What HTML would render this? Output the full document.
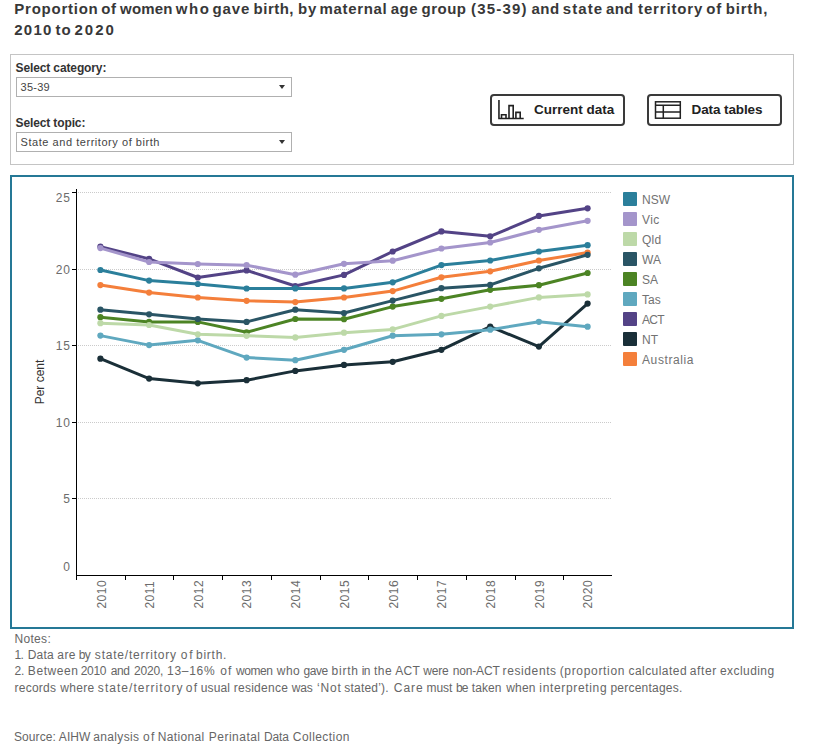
<!DOCTYPE html>
<html><head><meta charset="utf-8"><title>Proportion of women who gave birth</title>
<style>
html,body{margin:0;padding:0;background:#fff;}
body{width:813px;height:744px;position:relative;overflow:hidden;font-family:"Liberation Sans",sans-serif;color:#333;}
.abs{position:absolute;white-space:nowrap;}
.title{left:15px;font-weight:bold;font-size:15px;line-height:21px;color:#383838;}
.panel{position:absolute;left:10px;top:54px;width:782px;height:109px;border:1px solid #c4c4c4;}
.lbl{font-weight:bold;font-size:12px;color:#333;left:15.5px;letter-spacing:-0.12px;}
.dd{position:absolute;left:16px;width:274px;height:18px;border:1px solid #b0b0b0;background:#fff;}
.dd span{position:absolute;left:3.5px;top:3px;font-size:11px;line-height:12px;color:#444;white-space:nowrap;}
.dd i{position:absolute;right:6px;top:7px;width:0;height:0;border-left:3.5px solid transparent;border-right:3.5px solid transparent;border-top:4.5px solid #333;}
.btn{position:absolute;top:94px;height:28px;border:2px solid #3a3a3a;border-radius:4px;background:#fff;}
.btn span{position:absolute;top:6px;font-weight:bold;font-size:13.5px;line-height:16px;color:#222;white-space:nowrap;}
.frame{position:absolute;left:10px;top:175px;width:780px;height:450px;border:2px solid #257896;}
svg.chart{position:absolute;left:0;top:0;}
.ax{font-family:"Liberation Sans",sans-serif;font-size:12px;fill:#6c6c6c;}
.xl{letter-spacing:0.5px;}
.ayt{font-family:"Liberation Sans",sans-serif;font-size:12px;fill:#333;text-anchor:middle;}
.lg{font-family:"Liberation Sans",sans-serif;font-size:12px;fill:#727272;}
.title span,.note span{position:absolute;top:0;white-space:pre;}
.note{left:15px;font-size:12px;line-height:16px;color:#666;}
</style></head><body>
<div class="abs title" id="t1" style="top:-2px;left:0;width:813px;height:21px;"><span style="left:14.37px;letter-spacing:0.75px;">Proportion </span><span style="left:101.16px;letter-spacing:0.6px;">of </span><span style="left:120.06px;letter-spacing:0.18px;">women </span><span style="left:175.81px;letter-spacing:1.58px;">who </span><span style="left:212.46px;letter-spacing:0.9px;">gave </span><span style="left:253.55px;letter-spacing:0.5px;">birth, </span><span style="left:298.01px;letter-spacing:0.8px;">by </span><span style="left:319.5px;letter-spacing:0.67px;">maternal </span><span style="left:390.63px;letter-spacing:0.51px;">age </span><span style="left:421.46px;letter-spacing:0.52px;">group </span><span style="left:470.95px;letter-spacing:1.22px;">(35-39) </span><span style="left:531.53px;letter-spacing:0.5px;">and </span><span style="left:562.84px;letter-spacing:1.04px;">state </span><span style="left:606.03px;letter-spacing:0.3px;">and </span><span style="left:638.07px;letter-spacing:0.85px;">territory </span><span style="left:706.37px;letter-spacing:0.75px;">of </span><span style="left:725.71px;letter-spacing:0.83px;">birth, </span></div>
<div class="abs title" id="t2" style="top:19px;left:0;width:813px;height:21px;"><span style="left:14.17px;letter-spacing:1.3px;">2010 </span><span style="left:55.59px;letter-spacing:1.0px;">to </span><span style="left:74.62px;letter-spacing:1.92px;">2020 </span></div>
<div class="panel"></div>
<div class="abs lbl" id="l1" style="top:61px;">Select category:</div>
<div class="dd" style="top:77px;"><span id="d1" style="letter-spacing:0.27px">35-39</span><i></i></div>
<div class="abs lbl" id="l2" style="top:116px;">Select topic:</div>
<div class="dd" style="top:132px;"><span id="d2" style="letter-spacing:0.55px">State and territory of birth</span><i></i></div>
<div class="btn" style="left:490px;width:131px;">
<svg width="40" height="28" viewBox="0 0 40 28" style="position:absolute;left:0;top:0;" fill="none" stroke="#222" stroke-width="1.6">
<path d="M6.95 4V22.45H31.7"/><path d="M9.5 22.4V18.7H14V22.4M17 22.4V9.6H21.2V22.4M23.9 22.4V16.4H28.2V22.4"/></svg>
<span style="left:42px;letter-spacing:0px;" id="b1">Current data</span></div>
<div class="btn" style="left:647px;width:131px;">
<svg width="40" height="28" viewBox="0 0 40 28" style="position:absolute;left:0;top:0;" fill="none" stroke="#222" stroke-width="1.5">
<rect x="6.5" y="5.8" width="24.8" height="16.4"/><path d="M6.5 9.2H31.3M6.5 16H31.3M14.3 9.2V22.2"/></svg>
<span style="left:42.6px;letter-spacing:-0.12px;" id="b2">Data tables</span></div>
<div class="frame"></div>
<svg class="chart" width="813" height="744" viewBox="0 0 813 744">
<line x1="78" y1="192.5" x2="611" y2="192.5" stroke="#cbcbcb" stroke-width="1" stroke-dasharray="1 1"/>
<line x1="78" y1="269.5" x2="611" y2="269.5" stroke="#cbcbcb" stroke-width="1" stroke-dasharray="1 1"/>
<line x1="78" y1="345.5" x2="611" y2="345.5" stroke="#cbcbcb" stroke-width="1" stroke-dasharray="1 1"/>
<line x1="78" y1="422.5" x2="611" y2="422.5" stroke="#cbcbcb" stroke-width="1" stroke-dasharray="1 1"/>
<line x1="78" y1="498.5" x2="611" y2="498.5" stroke="#cbcbcb" stroke-width="1" stroke-dasharray="1 1"/>
<line x1="76.5" y1="189" x2="76.5" y2="580" stroke="#000" stroke-width="1"/>
<line x1="76" y1="575.5" x2="612" y2="575.5" stroke="#000" stroke-width="1"/>
<line x1="72" y1="192.5" x2="77" y2="192.5" stroke="#000" stroke-width="1"/>
<line x1="72" y1="269.5" x2="77" y2="269.5" stroke="#000" stroke-width="1"/>
<line x1="72" y1="345.5" x2="77" y2="345.5" stroke="#000" stroke-width="1"/>
<line x1="72" y1="422.5" x2="77" y2="422.5" stroke="#000" stroke-width="1"/>
<line x1="72" y1="498.5" x2="77" y2="498.5" stroke="#000" stroke-width="1"/>
<line x1="125.5" y1="575" x2="125.5" y2="580" stroke="#000" stroke-width="1"/>
<line x1="173.5" y1="575" x2="173.5" y2="580" stroke="#000" stroke-width="1"/>
<line x1="222.5" y1="575" x2="222.5" y2="580" stroke="#000" stroke-width="1"/>
<line x1="271.5" y1="575" x2="271.5" y2="580" stroke="#000" stroke-width="1"/>
<line x1="320.5" y1="575" x2="320.5" y2="580" stroke="#000" stroke-width="1"/>
<line x1="368.5" y1="575" x2="368.5" y2="580" stroke="#000" stroke-width="1"/>
<line x1="417.5" y1="575" x2="417.5" y2="580" stroke="#000" stroke-width="1"/>
<line x1="466.5" y1="575" x2="466.5" y2="580" stroke="#000" stroke-width="1"/>
<line x1="515.5" y1="575" x2="515.5" y2="580" stroke="#000" stroke-width="1"/>
<line x1="563.5" y1="575" x2="563.5" y2="580" stroke="#000" stroke-width="1"/>
<text x="71" y="202" text-anchor="end" class="ax" style="letter-spacing:1px">25</text>
<text x="71" y="274" text-anchor="end" class="ax" style="letter-spacing:1px">20</text>
<text x="71" y="350" text-anchor="end" class="ax" style="letter-spacing:1px">15</text>
<text x="71" y="427" text-anchor="end" class="ax" style="letter-spacing:1px">10</text>
<text x="70" y="503" text-anchor="end" class="ax">5</text>
<text x="70" y="570.5" text-anchor="end" class="ax">0</text>
<text transform="translate(105.9,608.6) rotate(-90)" class="ax xl">2010</text>
<text transform="translate(153.9,608.6) rotate(-90)" class="ax xl">2011</text>
<text transform="translate(202.6,608.6) rotate(-90)" class="ax xl">2012</text>
<text transform="translate(251.4,608.6) rotate(-90)" class="ax xl">2013</text>
<text transform="translate(300.1,608.6) rotate(-90)" class="ax xl">2014</text>
<text transform="translate(348.8,608.6) rotate(-90)" class="ax xl">2015</text>
<text transform="translate(397.5,608.6) rotate(-90)" class="ax xl">2016</text>
<text transform="translate(446.2,608.6) rotate(-90)" class="ax xl">2017</text>
<text transform="translate(495.0,608.6) rotate(-90)" class="ax xl">2018</text>
<text transform="translate(543.7,608.6) rotate(-90)" class="ax xl">2019</text>
<text transform="translate(592.4,608.6) rotate(-90)" class="ax xl">2020</text>
<text transform="translate(44.2,382) rotate(-90)" class="ayt">Per cent</text>
<polyline points="100.4,285.1 149.1,292.6 197.8,297.5 246.6,300.8 295.3,302.1 344.0,297.5 392.7,291.1 441.4,277.3 490.2,271.3 538.9,260.5 587.6,252.6" fill="none" stroke="#F47F3B" stroke-width="3" stroke-linejoin="round" stroke-linecap="round"/>
<circle cx="100.4" cy="285.1" r="3.1" fill="#F47F3B"/>
<circle cx="149.1" cy="292.6" r="3.1" fill="#F47F3B"/>
<circle cx="197.8" cy="297.5" r="3.1" fill="#F47F3B"/>
<circle cx="246.6" cy="300.8" r="3.1" fill="#F47F3B"/>
<circle cx="295.3" cy="302.1" r="3.1" fill="#F47F3B"/>
<circle cx="344.0" cy="297.5" r="3.1" fill="#F47F3B"/>
<circle cx="392.7" cy="291.1" r="3.1" fill="#F47F3B"/>
<circle cx="441.4" cy="277.3" r="3.1" fill="#F47F3B"/>
<circle cx="490.2" cy="271.3" r="3.1" fill="#F47F3B"/>
<circle cx="538.9" cy="260.5" r="3.1" fill="#F47F3B"/>
<circle cx="587.6" cy="252.6" r="3.1" fill="#F47F3B"/>
<polyline points="100.4,358.7 149.1,378.6 197.8,383.3 246.6,380.2 295.3,370.9 344.0,364.9 392.7,361.8 441.4,349.8 490.2,326.7 538.9,346.6 587.6,303.6" fill="none" stroke="#1A2F38" stroke-width="3" stroke-linejoin="round" stroke-linecap="round"/>
<circle cx="100.4" cy="358.7" r="3.1" fill="#1A2F38"/>
<circle cx="149.1" cy="378.6" r="3.1" fill="#1A2F38"/>
<circle cx="197.8" cy="383.3" r="3.1" fill="#1A2F38"/>
<circle cx="246.6" cy="380.2" r="3.1" fill="#1A2F38"/>
<circle cx="295.3" cy="370.9" r="3.1" fill="#1A2F38"/>
<circle cx="344.0" cy="364.9" r="3.1" fill="#1A2F38"/>
<circle cx="392.7" cy="361.8" r="3.1" fill="#1A2F38"/>
<circle cx="441.4" cy="349.8" r="3.1" fill="#1A2F38"/>
<circle cx="490.2" cy="326.7" r="3.1" fill="#1A2F38"/>
<circle cx="538.9" cy="346.6" r="3.1" fill="#1A2F38"/>
<circle cx="587.6" cy="303.6" r="3.1" fill="#1A2F38"/>
<polyline points="100.4,246.7 149.1,258.9 197.8,277.5 246.6,270.4 295.3,286.0 344.0,274.9 392.7,251.5 441.4,231.4 490.2,236.3 538.9,215.9 587.6,208.3" fill="none" stroke="#534386" stroke-width="3" stroke-linejoin="round" stroke-linecap="round"/>
<circle cx="100.4" cy="246.7" r="3.1" fill="#534386"/>
<circle cx="149.1" cy="258.9" r="3.1" fill="#534386"/>
<circle cx="197.8" cy="277.5" r="3.1" fill="#534386"/>
<circle cx="246.6" cy="270.4" r="3.1" fill="#534386"/>
<circle cx="295.3" cy="286.0" r="3.1" fill="#534386"/>
<circle cx="344.0" cy="274.9" r="3.1" fill="#534386"/>
<circle cx="392.7" cy="251.5" r="3.1" fill="#534386"/>
<circle cx="441.4" cy="231.4" r="3.1" fill="#534386"/>
<circle cx="490.2" cy="236.3" r="3.1" fill="#534386"/>
<circle cx="538.9" cy="215.9" r="3.1" fill="#534386"/>
<circle cx="587.6" cy="208.3" r="3.1" fill="#534386"/>
<polyline points="100.4,335.6 149.1,345.1 197.8,340.3 246.6,357.6 295.3,360.2 344.0,349.8 392.7,335.7 441.4,334.3 490.2,329.7 538.9,321.8 587.6,326.7" fill="none" stroke="#5FA8BF" stroke-width="3" stroke-linejoin="round" stroke-linecap="round"/>
<circle cx="100.4" cy="335.6" r="3.1" fill="#5FA8BF"/>
<circle cx="149.1" cy="345.1" r="3.1" fill="#5FA8BF"/>
<circle cx="197.8" cy="340.3" r="3.1" fill="#5FA8BF"/>
<circle cx="246.6" cy="357.6" r="3.1" fill="#5FA8BF"/>
<circle cx="295.3" cy="360.2" r="3.1" fill="#5FA8BF"/>
<circle cx="344.0" cy="349.8" r="3.1" fill="#5FA8BF"/>
<circle cx="392.7" cy="335.7" r="3.1" fill="#5FA8BF"/>
<circle cx="441.4" cy="334.3" r="3.1" fill="#5FA8BF"/>
<circle cx="490.2" cy="329.7" r="3.1" fill="#5FA8BF"/>
<circle cx="538.9" cy="321.8" r="3.1" fill="#5FA8BF"/>
<circle cx="587.6" cy="326.7" r="3.1" fill="#5FA8BF"/>
<polyline points="100.4,317.2 149.1,321.9 197.8,321.9 246.6,332.3 295.3,319.0 344.0,319.2 392.7,306.6 441.4,298.8 490.2,289.8 538.9,285.2 587.6,273.0" fill="none" stroke="#4C8424" stroke-width="3" stroke-linejoin="round" stroke-linecap="round"/>
<circle cx="100.4" cy="317.2" r="3.1" fill="#4C8424"/>
<circle cx="149.1" cy="321.9" r="3.1" fill="#4C8424"/>
<circle cx="197.8" cy="321.9" r="3.1" fill="#4C8424"/>
<circle cx="246.6" cy="332.3" r="3.1" fill="#4C8424"/>
<circle cx="295.3" cy="319.0" r="3.1" fill="#4C8424"/>
<circle cx="344.0" cy="319.2" r="3.1" fill="#4C8424"/>
<circle cx="392.7" cy="306.6" r="3.1" fill="#4C8424"/>
<circle cx="441.4" cy="298.8" r="3.1" fill="#4C8424"/>
<circle cx="490.2" cy="289.8" r="3.1" fill="#4C8424"/>
<circle cx="538.9" cy="285.2" r="3.1" fill="#4C8424"/>
<circle cx="587.6" cy="273.0" r="3.1" fill="#4C8424"/>
<polyline points="100.4,309.7 149.1,314.3 197.8,319.0 246.6,321.9 295.3,309.7 344.0,313.0 392.7,300.6 441.4,288.2 490.2,284.9 538.9,268.3 587.6,254.8" fill="none" stroke="#2A5565" stroke-width="3" stroke-linejoin="round" stroke-linecap="round"/>
<circle cx="100.4" cy="309.7" r="3.1" fill="#2A5565"/>
<circle cx="149.1" cy="314.3" r="3.1" fill="#2A5565"/>
<circle cx="197.8" cy="319.0" r="3.1" fill="#2A5565"/>
<circle cx="246.6" cy="321.9" r="3.1" fill="#2A5565"/>
<circle cx="295.3" cy="309.7" r="3.1" fill="#2A5565"/>
<circle cx="344.0" cy="313.0" r="3.1" fill="#2A5565"/>
<circle cx="392.7" cy="300.6" r="3.1" fill="#2A5565"/>
<circle cx="441.4" cy="288.2" r="3.1" fill="#2A5565"/>
<circle cx="490.2" cy="284.9" r="3.1" fill="#2A5565"/>
<circle cx="538.9" cy="268.3" r="3.1" fill="#2A5565"/>
<circle cx="587.6" cy="254.8" r="3.1" fill="#2A5565"/>
<polyline points="100.4,323.2 149.1,325.0 197.8,334.3 246.6,335.8 295.3,337.4 344.0,332.7 392.7,329.4 441.4,315.9 490.2,306.6 538.9,297.4 587.6,294.4" fill="none" stroke="#BDD9A8" stroke-width="3" stroke-linejoin="round" stroke-linecap="round"/>
<circle cx="100.4" cy="323.2" r="3.1" fill="#BDD9A8"/>
<circle cx="149.1" cy="325.0" r="3.1" fill="#BDD9A8"/>
<circle cx="197.8" cy="334.3" r="3.1" fill="#BDD9A8"/>
<circle cx="246.6" cy="335.8" r="3.1" fill="#BDD9A8"/>
<circle cx="295.3" cy="337.4" r="3.1" fill="#BDD9A8"/>
<circle cx="344.0" cy="332.7" r="3.1" fill="#BDD9A8"/>
<circle cx="392.7" cy="329.4" r="3.1" fill="#BDD9A8"/>
<circle cx="441.4" cy="315.9" r="3.1" fill="#BDD9A8"/>
<circle cx="490.2" cy="306.6" r="3.1" fill="#BDD9A8"/>
<circle cx="538.9" cy="297.4" r="3.1" fill="#BDD9A8"/>
<circle cx="587.6" cy="294.4" r="3.1" fill="#BDD9A8"/>
<polyline points="100.4,248.1 149.1,262.0 197.8,264.0 246.6,265.2 295.3,274.7 344.0,263.8 392.7,260.7 441.4,248.5 490.2,242.5 538.9,229.8 587.6,220.8" fill="none" stroke="#A495CB" stroke-width="3" stroke-linejoin="round" stroke-linecap="round"/>
<circle cx="100.4" cy="248.1" r="3.1" fill="#A495CB"/>
<circle cx="149.1" cy="262.0" r="3.1" fill="#A495CB"/>
<circle cx="197.8" cy="264.0" r="3.1" fill="#A495CB"/>
<circle cx="246.6" cy="265.2" r="3.1" fill="#A495CB"/>
<circle cx="295.3" cy="274.7" r="3.1" fill="#A495CB"/>
<circle cx="344.0" cy="263.8" r="3.1" fill="#A495CB"/>
<circle cx="392.7" cy="260.7" r="3.1" fill="#A495CB"/>
<circle cx="441.4" cy="248.5" r="3.1" fill="#A495CB"/>
<circle cx="490.2" cy="242.5" r="3.1" fill="#A495CB"/>
<circle cx="538.9" cy="229.8" r="3.1" fill="#A495CB"/>
<circle cx="587.6" cy="220.8" r="3.1" fill="#A495CB"/>
<polyline points="100.4,270.0 149.1,280.6 197.8,284.0 246.6,288.5 295.3,288.4 344.0,288.4 392.7,282.3 441.4,265.1 490.2,260.5 538.9,251.5 587.6,245.2" fill="none" stroke="#2B7F9B" stroke-width="3" stroke-linejoin="round" stroke-linecap="round"/>
<circle cx="100.4" cy="270.0" r="3.1" fill="#2B7F9B"/>
<circle cx="149.1" cy="280.6" r="3.1" fill="#2B7F9B"/>
<circle cx="197.8" cy="284.0" r="3.1" fill="#2B7F9B"/>
<circle cx="246.6" cy="288.5" r="3.1" fill="#2B7F9B"/>
<circle cx="295.3" cy="288.4" r="3.1" fill="#2B7F9B"/>
<circle cx="344.0" cy="288.4" r="3.1" fill="#2B7F9B"/>
<circle cx="392.7" cy="282.3" r="3.1" fill="#2B7F9B"/>
<circle cx="441.4" cy="265.1" r="3.1" fill="#2B7F9B"/>
<circle cx="490.2" cy="260.5" r="3.1" fill="#2B7F9B"/>
<circle cx="538.9" cy="251.5" r="3.1" fill="#2B7F9B"/>
<circle cx="587.6" cy="245.2" r="3.1" fill="#2B7F9B"/>
<rect x="623" y="192" width="14" height="14" rx="1" fill="#2B7F9B"/>
<text x="642" y="204" class="lg" style="letter-spacing:0px">NSW</text>
<rect x="623" y="212" width="14" height="14" rx="1" fill="#A495CB"/>
<text x="642" y="224" class="lg" style="letter-spacing:0.45px">Vic</text>
<rect x="623" y="232" width="14" height="14" rx="1" fill="#BDD9A8"/>
<text x="642" y="244" class="lg" style="letter-spacing:0.27px">Qld</text>
<rect x="623" y="252" width="14" height="14" rx="1" fill="#2A5565"/>
<text x="642" y="264" class="lg" style="letter-spacing:0px">WA</text>
<rect x="623" y="272" width="14" height="14" rx="1" fill="#4C8424"/>
<text x="642" y="284" class="lg" style="letter-spacing:0px">SA</text>
<rect x="623" y="292" width="14" height="14" rx="1" fill="#5FA8BF"/>
<text x="642" y="304" class="lg" style="letter-spacing:0px">Tas</text>
<rect x="623" y="312" width="14" height="14" rx="1" fill="#534386"/>
<text x="642" y="324" class="lg" style="letter-spacing:-0.7px">ACT</text>
<rect x="623" y="332" width="14" height="14" rx="1" fill="#1A2F38"/>
<text x="642" y="344" class="lg" style="letter-spacing:0px">NT</text>
<rect x="623" y="352" width="14" height="14" rx="1" fill="#F47F3B"/>
<text x="642" y="364" class="lg" style="letter-spacing:0.6px">Australia</text>
</svg>
<div class="abs note" id="n1" style="top:631px;left:0;width:813px;height:16px;"><span style="left:14.42px;letter-spacing:0.33px;">Notes: </span></div>
<div class="abs note" id="n2" style="top:647px;left:0;width:813px;height:16px;"><span style="left:14.43px;letter-spacing:-0.5px;">1. </span><span style="left:27.76px;letter-spacing:0.18px;">Data </span><span style="left:57.36px;letter-spacing:0.41px;">are </span><span style="left:78.84px;letter-spacing:-0.8px;">by </span><span style="left:94.83px;letter-spacing:0.8px;">state/territory </span><span style="left:180.63px;letter-spacing:1.87px;">of </span><span style="left:195.97px;letter-spacing:0.76px;">birth. </span></div>
<div class="abs note" id="n3" style="top:663px;left:0;width:813px;height:16px;"><span style="left:14.59px;letter-spacing:-0.3px;">2. </span><span style="left:27.86px;letter-spacing:0.56px;">Between </span><span style="left:80.64px;letter-spacing:-0.29px;">2010 </span><span style="left:110.74px;letter-spacing:-0.46px;">and </span><span style="left:134.12px;letter-spacing:-0.17px;">2020, </span><span style="left:167.07px;letter-spacing:0.71px;">13–16% </span><span style="left:220.17px;letter-spacing:1.24px;">of </span><span style="left:236.0px;letter-spacing:-0.44px;">women </span><span style="left:276.84px;letter-spacing:0.44px;">who </span><span style="left:303.52px;letter-spacing:-0.47px;">gave </span><span style="left:331.5px;letter-spacing:0.8px;">birth </span><span style="left:361.8px;letter-spacing:-0.65px;">in </span><span style="left:374.06px;letter-spacing:0.46px;">the </span><span style="left:395.3px;letter-spacing:0.3px;">ACT </span><span style="left:423.37px;letter-spacing:-0.26px;">were </span><span style="left:452.65px;letter-spacing:-0.14px;">non-ACT </span><span style="left:502.6px;letter-spacing:0.6px;">residents </span><span style="left:559.66px;letter-spacing:0.68px;">(proportion </span><span style="left:628.43px;letter-spacing:0.46px;">calculated </span><span style="left:689.74px;letter-spacing:0.65px;">after </span><span style="left:719.99px;letter-spacing:0.43px;">excluding </span></div>
<div class="abs note" id="n4" style="top:680px;left:0;width:813px;height:16px;"><span style="left:14.5px;letter-spacing:0.24px;">records </span><span style="left:60.35px;letter-spacing:0.31px;">where </span><span style="left:97.85px;letter-spacing:1.04px;">state/territory </span><span style="left:185.78px;letter-spacing:1.42px;">of </span><span style="left:200.68px;letter-spacing:0.17px;">usual </span><span style="left:233.66px;letter-spacing:0.28px;">residence </span><span style="left:291.84px;letter-spacing:-0.16px;">was </span><span style="left:316.88px;letter-spacing:0.9px;">‘Not </span><span style="left:344.33px;letter-spacing:0.19px;">stated’). </span><span style="left:393.76px;letter-spacing:1.0px;">Care </span><span style="left:426.6px;letter-spacing:-0.11px;">must </span><span style="left:455.9px;letter-spacing:-0.69px;">be </span><span style="left:471.77px;letter-spacing:0.07px;">taken </span><span style="left:506.3px;letter-spacing:0.13px;">when </span><span style="left:539.34px;letter-spacing:0.66px;">interpreting </span><span style="left:610.46px;letter-spacing:0.22px;">percentages. </span></div>
<div class="abs note" id="n5" style="top:729px;left:0;width:813px;height:16px;"><span style="left:13.97px;letter-spacing:0.1px;">Source: </span><span style="left:58.8px;letter-spacing:0.09px;">AIHW </span><span style="left:93.29px;letter-spacing:0.34px;">analysis </span><span style="left:142.91px;letter-spacing:1.43px;">of </span><span style="left:157.7px;letter-spacing:0.34px;">National </span><span style="left:208.76px;letter-spacing:0.49px;">Perinatal </span><span style="left:264.07px;letter-spacing:-0.19px;">Data </span><span style="left:292.84px;letter-spacing:0.44px;">Collection </span></div>
</body></html>
